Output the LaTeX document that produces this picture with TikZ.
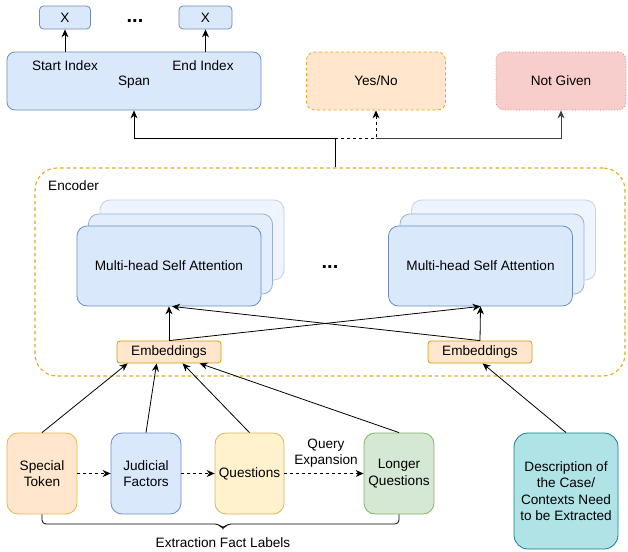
\documentclass[tikz,border=0pt]{standalone}
\usepackage{fontspec}
\setmainfont{Liberation Sans}
\usetikzlibrary{arrows.meta,calc}
\definecolor{bfill}{HTML}{DAE8FC}
\definecolor{bline}{HTML}{6C8EBF}
\definecolor{ofill}{HTML}{FFE6CC}
\definecolor{oline}{HTML}{D79B00}
\definecolor{yfill}{HTML}{FFF2CC}
\definecolor{yline}{HTML}{D6B656}
\definecolor{gfill}{HTML}{D5E8D4}
\definecolor{gline}{HTML}{82B366}
\definecolor{rfill}{HTML}{F8CECC}
\definecolor{rline}{HTML}{B85450}
\definecolor{tfill}{HTML}{B0E3E6}
\definecolor{tline}{HTML}{0E8088}
\definecolor{encline}{HTML}{E5A823}
\tikzset{
  box/.style={draw, line width=0.8pt, rounded corners=8pt, inner sep=0pt, align=center},
  bluebox/.style={box, fill=bfill, draw=bline},
  xbox/.style={bluebox, rounded corners=4pt, minimum width=52pt, minimum height=23pt},
  stack1/.style={bluebox, rounded corners=10pt, minimum width=184pt, minimum height=80pt},
  stack2/.style={stack1, fill=bfill!75!white, draw=bline!70!white},
  stack3/.style={stack1, fill=bfill!45!white, draw=bline!40!white},
  embbox/.style={box, fill=ofill, draw=oline, rounded corners=3pt, minimum width=104pt, minimum height=22pt},
  srcbox/.style={box, rounded corners=11pt, minimum width=70pt, minimum height=81pt},
  plain/.style={inner sep=0pt},
  dotsty/.style={inner sep=0pt, anchor=base, font=\fontsize{20}{20}\selectfont\bfseries},
  arr/.style={-{Stealth[length=8pt,width=7pt]}, line width=0.8pt},
  dasharr/.style={arr, dashed, dash pattern=on 3pt off 3pt},
}
\begin{document}
\begin{tikzpicture}[x=1pt,y=-1pt, font=\fontsize{13.6}{16.5}\selectfont]
\useasboundingbox (0,0) rectangle (628,551);

% encoder
\node[draw=encline, line width=1.1pt, dashed, dash pattern=on 3.5pt off 3pt, rounded corners=22pt, minimum width=590pt, minimum height=208pt] (enc) at (330,272) {};
\node[plain, anchor=west] (enclab) at (48,186) {Encoder};

% outputs
\node[bluebox, minimum width=254pt, minimum height=58pt] (span) at (134,81) {};
\node[plain] (spantxt) at (134,82) {Span};
\node[plain] (start) at (65,66) {Start Index};
\node[plain] (endi) at (203,66) {End Index};
\node[xbox, minimum width=51pt] (x1) at (65,17.5) {X};
\node[xbox, minimum width=53pt] (x2) at (205.5,17.5) {X};
\node[dotsty] (dots1) at (135,23) {...};
\node[box, fill=ofill, draw=encline, dashed, dash pattern=on 3pt off 2.5pt, minimum width=139pt, minimum height=58pt] (yn) at (376,81) {Yes/No};
\node[box, fill=rfill, draw=rline!70!white, dotted, minimum width=130pt, minimum height=58pt] (ng) at (561,81) {Not Given};

\draw[arr] (x1|-span.north) -- (x1.south);
\draw[arr] (x2|-span.north) -- (x2.south);

% encoder to outputs
\coordinate (jn) at ($(enc.north)+(5,-29)$);
\coordinate (jy) at (yn.south|-jn);
\draw[arr] ($(enc.north)+(5,0)$) -- (jn) -| (span.south);
\draw[arr, draw=black!75] (jy) -| (ng.south);
\draw[dasharr] (jn) -- (jy) -- (yn.south);

% stacks
\node[stack3] (l3) at (192,240) {};
\node[stack2] (l2) at (180.5,254) {};
\node[stack1] (l1) at (169,266) {Multi-head Self Attention};
\node[stack3] (r3) at (503.5,240) {};
\node[stack2] (r2) at (492,254) {};
\node[stack1] (r1) at (480.5,266) {Multi-head Self Attention};
\node[dotsty] (dots2) at (330,268) {...};

% embeddings
\node[embbox] (el) at (169,352) {Embeddings};
\node[embbox] (er) at (480,352) {Embeddings};
\draw[arr] (el.north) -- (l1.south);
\draw[arr] (el.north) -- (r1.south);
\draw[arr] (er.north) -- ($(l1.south)+(3,0)$);
\draw[arr] (er.north) -- (r1.south);

% sources
\node[srcbox, fill=ofill, draw=oline!70!white] (spec) at (42,473.5) {Special\\Token};
\node[srcbox, fill=bfill, draw=bline] (jud) at (146,473.5) {Judicial\\Factors};
\node[srcbox, fill=yfill, draw=yline, minimum width=69pt] (que) at (249.5,473.5) {Questions};
\node[srcbox, fill=gfill, draw=gline] (lq) at (399,473.5) {Longer\\Questions};
\node[srcbox, fill=tfill, draw=tline, minimum width=104pt, minimum height=116pt, rounded corners=14pt] (desc) at (566,491) {Description of\\the Case/\\Contexts Need\\to be Extracted};

\draw[dasharr] (spec.east) -- (jud.west);
\draw[dasharr] (jud.east) -- (que.west);
\draw[dasharr] (que.east) -- (lq.west);
\node[plain, align=center] (qe) at (326,453) {Query\\Expansion};

\draw[arr] (spec.north) -- ($(el.south west)+(11,0)$);
\draw[arr] (jud.north) -- ($(el.south west)+(40,0)$);
\draw[arr] (que.north) -- ($(el.south west)+(66,0)$);
\draw[arr] (lq.north) -- ($(el.south west)+(83,0)$);
\draw[arr] (desc.north) -- ($(er.south west)+(55,0)$);

% brace
\draw[line width=0.8pt, rounded corners=4pt] (spec.south) |- (219,524) -- (223,529) -- (227,524) -| (lq.south);
\node[plain] (efl) at (223,543) {Extraction Fact Labels};
\end{tikzpicture}
\end{document}
